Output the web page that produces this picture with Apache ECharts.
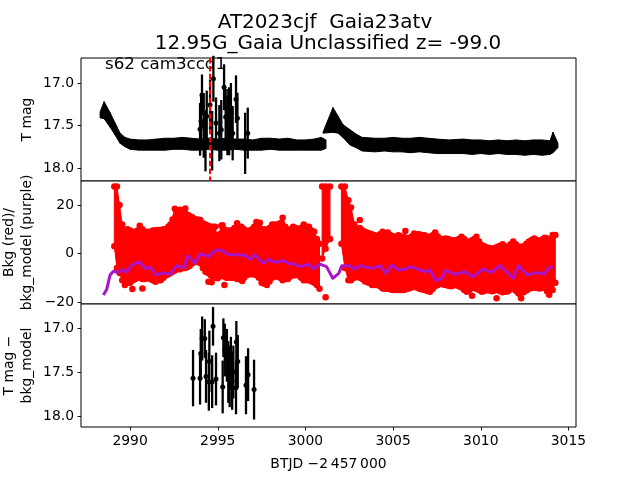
<!DOCTYPE html>
<html><head><meta charset="utf-8">
<style>html,body{margin:0;padding:0;background:#fff}#c{width:640px;height:480px}</style>
<script src="https://cdn.jsdelivr.net/npm/echarts@6/dist/echarts.min.js"></script>
</head><body><div id="c"></div>
<script>
const xTicks=[2990,2995,3000,3005,3010,3015];
const magTicks=[17,17.5,18];
const bkgTicks=[-20,0,20];
const lcAX=[2988.29,2988.52,2988.86,2989.14,2989.43,2989.71,2990,2990.5,2991,2991.5,2992,2992.5,2993,2993.5,2994,2994.5,2995,2995.5,2996,2996.5,2997,2997.5,2998,2998.5,2999,2999.5,3000,3000.5,3000.9,3001.17];
const lcATop=[17.34,17.22,17.35,17.47,17.59,17.64,17.66,17.67,17.67,17.66,17.65,17.65,17.64,17.65,17.66,17.65,17.66,17.65,17.66,17.66,17.67,17.65,17.65,17.66,17.65,17.67,17.67,17.66,17.64,17.67];
const lcABot=[17.41,17.42,17.52,17.61,17.71,17.75,17.78,17.79,17.79,17.79,17.79,17.78,17.78,17.79,17.79,17.78,17.79,17.79,17.78,17.79,17.79,17.79,17.78,17.79,17.79,17.79,17.79,17.79,17.79,17.77];
const lcBX=[3001,3001.57,3001.86,3002.14,3002.54,3002.88,3003.23,3003.97,3004.5,3005,3005.5,3006,3006.5,3007,3007.5,3008.2,3009,3009.5,3010,3010.5,3011,3011.5,3012,3012.5,3013,3013.5,3013.95,3014.12,3014.4];
const lcBTop=[17.58,17.29,17.39,17.49,17.55,17.6,17.64,17.65,17.65,17.64,17.65,17.65,17.64,17.65,17.66,17.67,17.66,17.67,17.67,17.68,17.67,17.68,17.67,17.68,17.67,17.67,17.68,17.58,17.71];
const lcBBot=[17.59,17.58,17.59,17.64,17.73,17.76,17.8,17.81,17.8,17.81,17.81,17.82,17.81,17.82,17.83,17.83,17.83,17.84,17.83,17.84,17.83,17.84,17.84,17.85,17.84,17.85,17.84,17.82,17.76];
const topX=[2993.99,2994.1,2994.05,2994.2,2994.3,2994.37,2994.56,2994.75,2994.68,2994.9,2995.09,2995.2,2995.36,2995.45,2995.55,2995.65,2995.75,2995.85,2995.6,2996.04,2996.12,2996.56,2996.71];
const topMag=[17.545,17.14,17.45,17.5,17.68,17.39,17.26,16.95,17.68,17.47,17.59,17.55,17.05,17.4,17.5,17.45,17.35,17.59,17.32,17.19,17.415,17.71,17.59];
const topErr=[0.31,0.24,0.33,0.38,0.36,0.3,0.3,0.27,0.35,0.3,0.33,0.35,0.27,0.33,0.35,0.4,0.35,0.32,0.25,0.28,0.3,0.36,0.3];
const botX=[2993.59,2993.99,2994.11,2994.03,2994.26,2994.33,2994.52,2994.49,2994.68,2994.73,2994.9,2995.32,2995.28,2995.4,2995.52,2995.6,2995.68,2995.75,2995.82,2995.89,2996.06,2996.14,2996.04,2996.61,2996.73,2997.07];
const botMag=[17.57,17.57,17.12,17.29,17.12,17.55,17.38,17.61,17.61,16.98,17.58,17.11,17.67,17.25,17.31,17.5,17.55,17.4,17.6,17.5,17.16,17.38,17.68,17.65,17.53,17.7];
const botErr=[0.32,0.3,0.25,0.28,0.22,0.3,0.35,0.33,0.3,0.22,0.3,0.22,0.3,0.3,0.3,0.35,0.35,0.3,0.33,0.3,0.24,0.3,0.3,0.33,0.3,0.34];
const bandAX=[2989.1,2989.25,2989.4,2989.55,2989.7,2990,2990.3,2990.55,2990.85,2991.15,2991.45,2991.75,2992.05,2992.3,2992.55,2992.85,2993.15,2993.4,2993.7,2994,2994.3,2994.6,2994.85,2995,2995.2,2995.5,2995.8,2996.1,2996.35,2996.65,2996.95,2997.2,2997.5,2997.8,2998.1,2998.4,2998.7,2999,2999.3,2999.6,2999.9,3000.2,3000.5,3000.8];
const bandAHi=[27.6,27.6,20,12,9.7,9.5,8,11.5,9,9,9.6,9.7,9.9,12,18.5,18,18.6,15.5,14,13.8,12,11,11,6,11.5,9.5,9.5,12.5,11,9,10,13,10,9.7,12,12,14.8,9.5,11,10,12,11,9,4];
const bandALo=[3,-6,-8,-11,-13,-12,-10.5,-10,-10.5,-10.5,-11.6,-11,-9,-8,-7,-6.5,-6,-5,-3.5,-4,-7.5,-9,-10,-10.2,-9,-10,-10,-10.5,-11,-9,-8.5,-9,-12,-13,-10,-9.5,-11,-10.5,-9,-9,-11,-11,-12,-14.5];
const bandBX=[3000.95,3001.15,3001.4];
const bandBHi=[27.6,27.6,27.6];
const bandBLo=[-2,2,6];
const bandCX=[3002.05,3002.25,3002.45,3002.6,3002.8,3003.1,3003.4,3003.8,3004.1,3004.4,3004.7,3005,3005.3,3005.6,3005.9,3006.2,3006.5,3006.8,3007.1,3007.4,3007.7,3008,3008.3,3008.6,3008.9,3009.2,3009.5,3009.75,3010.05,3010.35,3010.65,3010.95,3011.25,3011.55,3011.85,3012.15,3012.45,3012.75,3013.05,3013.35,3013.65,3013.9,3014.1,3014.25];
const bandCHi=[27.6,27.6,22,19,12,10.5,9,8,7,9,8.7,7,7.5,6.8,6,8.3,8,7.5,6.5,8.7,6,6.2,5.5,5.5,6.9,5,5.5,6.9,3.5,2.5,2,2.8,3.8,2.5,5,2.8,3,5,6.2,5,6.5,6,7.6,7.6];
const bandCLo=[4,-6,-11,-11,-10,-10,-11.5,-13,-13,-14.4,-14.5,-15,-15,-15,-14.4,-13.5,-14.5,-15,-15.8,-13.5,-12.5,-13,-13.5,-13,-14,-15.8,-14,-14.5,-15.8,-15,-15.5,-15,-16,-15.5,-14,-16.5,-16,-14.5,-14,-14.4,-14,-17,-15,-12];
const edgeAX=[2989.85,2990.15,2990.42,2990.7,2991,2991.3,2991.6,2991.9,2992.18,2992.42,2992.7,2993,2993.28,2993.55,2993.85,2994.15,2994.45,2994.72,2995.1,2995.35,2995.65,2995.95,2996.22,2996.5,2996.8,2997.08,2997.35,2997.65,2997.95,2998.25,2998.55,2998.85,2999.15,2999.45,2999.75,3000.05,3000.35,3000.65];
const edgeAHi=[10,9,9.5,10,9,9.5,9.7,10,11,14,17.5,16.5,16,15,14,12.5,11.5,11,8,10,9.5,10.5,11,10,9.5,11,11,10,10.5,12,12.5,11,10,10.5,10.5,11,9.5,6];
const edgeALo=[-12,-11,-10,-10.5,-10,-11,-11,-10,-8.5,-7.5,-6.5,-6,-5.5,-4,-3.5,-6,-8,-9.5,-9.5,-9.5,-10,-10,-10.5,-10,-8.5,-8.5,-10,-12.5,-11.5,-9.5,-10,-10.5,-9.5,-9,-10,-11,-11.5,-13];
const edgeCX=[3003.25,3003.6,3003.95,3004.25,3004.55,3004.85,3005.15,3005.45,3005.75,3006.05,3006.35,3006.65,3006.95,3007.25,3007.55,3007.85,3008.15,3008.45,3008.75,3009.05,3009.35,3009.62,3009.9,3010.2,3010.5,3010.8,3011.1,3011.4,3011.7,3012,3012.3,3012.6,3012.9,3013.2,3013.5,3013.78];
const edgeCHi=[9.5,8.5,7.5,8,8.5,7.5,7,7,6.5,7,8,7.5,7,7.5,7,6,6,5.5,6,6,5,6,5,3,2.3,2.3,3.2,3,3.8,3.8,2.8,4,5.6,5.6,5.8,6.2];
const edgeCLo=[-10.5,-12,-13,-13.5,-14.5,-14.8,-15,-15,-14.7,-14,-14,-14.8,-15.4,-14.6,-13,-12.8,-13.3,-13.2,-13.5,-15,-15,-14.2,-15,-15.4,-15.2,-15.2,-15.5,-15.7,-14.7,-15.3,-16.2,-15.2,-14.2,-14.2,-14.2,-15.5];
const outX=[2990.13,2990.7,2994.47,2994.65,2995.38,2996.4,2995.27,2997.4,3001.15,3003.1,3005.7,3009.5,3010.9,3012.3];
const outV=[-14.6,-14.4,-11.6,-11.8,-13,-11.3,11.7,12.7,-18,13.8,9.3,-17.4,-18.4,-18.4];
const modelLine=[[2988.48,-17.1],[2988.67,-14.7],[2988.86,-8.8],[2989.05,-7.3],[2989.33,-7.8],[2989.62,-6.5],[2989.8,-7.8],[2990.1,-4.7],[2990.53,-3.4],[2990.85,-6.1],[2991.18,-5.8],[2991.48,-8.8],[2991.9,-7.9],[2992.3,-8.6],[2992.65,-5],[2993.1,-5.8],[2993.27,-0.9],[2993.7,-4],[2994,0],[2994.47,-1.3],[2994.85,1.4],[2995.2,1.4],[2995.6,-0.4],[2996.55,-0.7],[2996.88,-2.4],[2997.1,-0.4],[2997.6,-4],[2997.9,-2.4],[2998.25,-3.6],[2998.8,-3],[2999,-4],[2999.4,-4.4],[2999.7,-5.4],[3000.2,-4.4],[3000.45,-6.3],[3000.83,-4.4],[3001.2,-5.4],[3001.56,-10.2],[3001.9,-8.2],[3002.07,-5],[3002.55,-5],[3002.8,-6.5],[3003.1,-5],[3003.45,-5.7],[3003.85,-6.1],[3004.25,-5],[3004.6,-8.2],[3004.9,-4.7],[3005.3,-6.8],[3005.7,-6.4],[3006,-5.4],[3006.4,-6.4],[3006.8,-7.5],[3007.1,-6.8],[3007.4,-10.9],[3007.75,-10.5],[3008,-6.8],[3008.5,-8.6],[3009.1,-7.5],[3009.55,-9.6],[3010.1,-6.4],[3010.6,-7.8],[3011.1,-5],[3011.85,-10.2],[3012.15,-5],[3012.65,-8.8],[3013.2,-7.8],[3013.6,-8.4],[3013.9,-5.8],[3014.1,-5.4]];
const eventX=2994.56;
const titleLines=['AT2023cjf  Gaia23atv','12.95G_Gaia Unclassified z= -99.0'];

const XMIN=2987.2,XMAX=3015.43;
const FONT='"DejaVu Sans"';
const grids=[{left:81,width:495,top:58,height:123},{left:81,width:495,top:181,height:123},{left:81,width:495,top:304,height:123}]
  .map(g=>({...g,show:true,borderColor:'#000',borderWidth:1,backgroundColor:'#fff',outerBoundsMode:'none'}));
const xA=i=>({type:'value',gridIndex:i,min:XMIN,max:XMAX,splitLine:{show:false},axisLine:{show:false},
  axisTick:i===2?{show:true,customValues:xTicks,length:3.5,lineStyle:{color:'#000',width:0.9}}:{show:false},
  axisLabel:i===2?{show:true,customValues:xTicks,color:'#000',fontFamily:FONT,fontSize:13.9,margin:7,formatter:v=>String(v)}:{show:false},
  ...(i===2?{name:'BTJD \u22122\u2009457\u2009000',nameLocation:'middle',nameGap:30,nameTextStyle:{color:'#000',fontFamily:FONT,fontSize:13.9}}:{})});
const yA=(i,min,max,ticks,inv,name,gap,fmt)=>({type:'value',gridIndex:i,min,max,inverse:inv,splitLine:{show:false},axisLine:{show:false},
  axisTick:{show:true,customValues:ticks,length:3.5,lineStyle:{color:'#000',width:0.9}},
  axisLabel:{show:true,customValues:ticks,color:'#000',fontFamily:FONT,fontSize:13.9,margin:7,formatter:fmt},
  name,nameLocation:'middle',nameGap:gap,nameRotate:90,nameMoveOverlap:false,nameTextStyle:{color:'#000',fontFamily:FONT,fontSize:13.9,lineHeight:18,align:'center'}});
const magFmt=v=>v.toFixed(1);
const bkgFmt=v=>String(v).replace('-','\u2212');
function bars(xs,ms,es,idx){
  return {type:'custom',xAxisIndex:idx,yAxisIndex:idx,clip:false,z:3,silent:true,
    data:xs.map((x,i)=>[x,ms[i]-es[i],ms[i]+es[i]]),
    renderItem:(p,api)=>{const a=api.coord([api.value(0),api.value(1)]),b=api.coord([api.value(0),api.value(2)]);
      return {type:'line',shape:{x1:a[0],y1:a[1],x2:b[0],y2:b[1]},style:{stroke:'#000',lineWidth:2.3}};}};
}
function dots(xs,ys,idx,color,size,z){
  return {type:'scatter',xAxisIndex:idx,yAxisIndex:idx,symbolSize:size,itemStyle:{color,opacity:1},z:z||4,silent:true,
    data:xs.map((x,i)=>[x,ys[i]])};
}
function band(xs,hi,lo,idx,color){
  return {type:'custom',xAxisIndex:idx,yAxisIndex:idx,z:2,silent:true,clip:true,
    data:xs.map((x,i)=>[x,hi[i],lo[i]]),
    renderItem:(p,api)=>{const i=p.dataIndex;if(i>=xs.length-1)return null;
      const pts=[api.coord([xs[i],hi[i]]),api.coord([xs[i+1],hi[i+1]]),api.coord([xs[i+1],lo[i+1]]),api.coord([xs[i],lo[i]])];
      return {type:'polygon',shape:{points:pts},style:{fill:color,stroke:color,lineWidth:1}};}};
}
const R='#ff0000';
const series=[
  band(lcAX,lcATop,lcABot,0,'#000'),band(lcBX,lcBTop,lcBBot,0,'#000'),
  bars(topX,topMag,topErr,0),dots(topX,topMag,0,'#000',5),
  {type:'line',xAxisIndex:0,yAxisIndex:0,data:[[eventX,16.706],[eventX,18.153]],showSymbol:false,lineStyle:{color:R,width:2,type:[5.5,2.4]},z:6,silent:true},
  band(bandAX,bandAHi,bandALo,1,R),band(bandBX,bandBHi,bandBLo,1,R),band(bandCX,bandCHi,bandCLo,1,R),
  dots(bandAX,bandAHi,1,R,6.5,3),dots(bandAX,bandALo,1,R,6.5,3),
  dots(bandBX,bandBHi,1,R,6.5,3),dots(bandBX,bandBLo,1,R,6.5,3),
  dots(bandCX,bandCHi,1,R,6.5,3),dots(bandCX,bandCLo,1,R,6.5,3),
  dots(edgeAX,edgeAHi,1,R,6.5,3),dots(edgeAX,edgeALo,1,R,6.5,3),
  dots(edgeCX,edgeCHi,1,R,6.5,3),dots(edgeCX,edgeCLo,1,R,6.5,3),
  dots(outX,outV,1,R,6.5,3),
  {type:'line',xAxisIndex:1,yAxisIndex:1,data:modelLine,showSymbol:false,lineStyle:{color:'#a814c8',width:3,join:'round'},z:5,silent:true},
  bars(botX,botMag,botErr,2),dots(botX,botMag,2,'#000',5)
];
const chart=echarts.init(document.getElementById('c'),null,{renderer:'canvas'});
chart.setOption({
  animation:false,backgroundColor:'#fff',
  title:[
    {text:titleLines[0],left:320,top:8,textAlign:'center',textStyle:{color:'#000',fontFamily:FONT,fontSize:20,fontWeight:'normal'}},
    {text:titleLines[1],left:323,top:29,textAlign:'center',textStyle:{color:'#000',fontFamily:FONT,fontSize:20,fontWeight:'normal'}},
    {text:'s62 cam3ccd1',left:100,top:51,textStyle:{color:'#000',fontFamily:FONT,fontSize:16.7,fontWeight:'normal'}}
  ],
  grid:grids,
  xAxis:[xA(0),xA(1),xA(2)],
  yAxis:[
    yA(0,16.706,18.153,magTicks,true,'T mag',45,magFmt),
    yA(1,-20.8,29.9,bkgTicks,false,'Bkg (red)/\nbkg_model (purple)',45,bkgFmt),
    yA(2,16.727,18.125,magTicks,true,'T mag \u2212\nbkg_model',45,magFmt)
  ],
  series
});
</script></body></html>
